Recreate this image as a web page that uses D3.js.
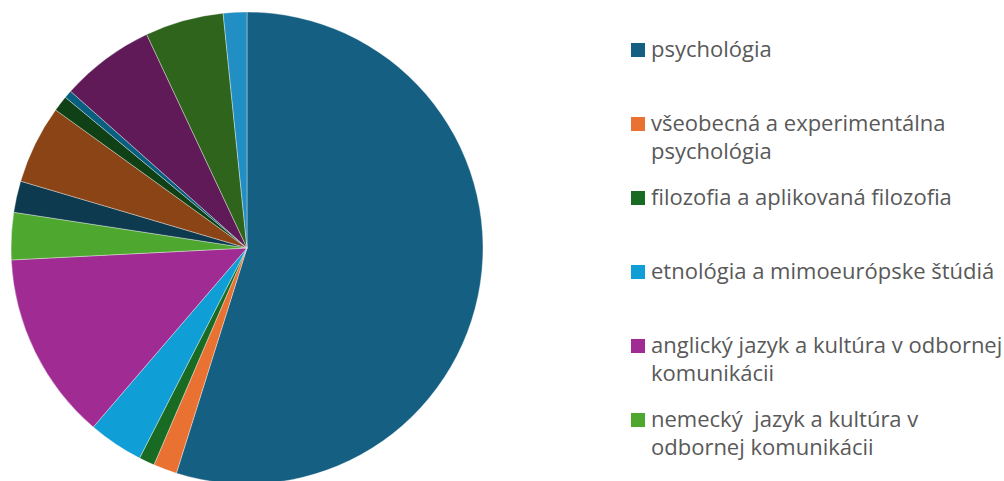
<!DOCTYPE html>
<html>
<head>
  <meta charset="utf-8">
  <title>Pie</title>
  <script src="https://cdn.jsdelivr.net/npm/d3@7"></script>
  <style>
    body { margin: 0; background: #fff; }
    .legend text {
      font-family: "Open Sans", "Noto Sans", sans-serif;
      font-size: 22px;
      fill: #595959;
      white-space: pre;
    }
  </style>
</head>
<body>
  <div id="chart-area"></div>
  <script>
    // counts per study programme, in the order of the slices (clockwise from 12 o'clock)
    const values = [102, 3, 2, 7, 24, 6, 4, 10, 2, 1, 12, 10, 3];
    const colors = ["#156082", "#e97132", "#196b24", "#0f9ed5", "#a02b93", "#4ea72e",
                    "#0d3a4e", "#8b4415", "#0f4016", "#095f80", "#601a58", "#2f641c", "#218ec4"];
    // only these entries fit into the legend area
    const labels = [
      "psychológia",
      "všeobecná a experimentálna psychológia",
      "filozofia a aplikovaná filozofia",
      "etnológia a mimoeurópske štúdiá",
      "anglický jazyk a kultúra v odbornej komunikácii",
      "nemecký  jazyk a kultúra v odbornej komunikácii"
    ];

    const width = 1004;
    const height = 481;
    const radius = 236;

    const svg = d3.select("#chart-area")
      .append("svg")
        .attr("width", width)
        .attr("height", height);

    const g = svg.append("g")
      .attr("transform", "translate(247, 248)");

    const pie = d3.pie()
      .value(d => d)
      .sort(null);

    const arc = d3.arc()
      .innerRadius(0)
      .outerRadius(radius);

    g.selectAll("path")
      .data(pie(values))
      .enter().append("path")
        .attr("d", arc)
        .attr("fill", (d, i) => colors[i])
        .attr("stroke", "#fff")
        .attr("stroke-width", 0.6)
        .attr("stroke-opacity", 0.6);

    // legend
    const legend = svg.append("g").attr("class", "legend");
    const item = legend.selectAll("g")
      .data(labels)
      .enter().append("g")
        .attr("transform", (d, i) => `translate(631, ${50 + i * 74})`);

    item.append("rect")
      .attr("x", 0)
      .attr("y", -7)
      .attr("width", 14)
      .attr("height", 14)
      .attr("fill", (d, i) => colors[i]);

    item.append("text")
      .attr("x", 20)
      .attr("y", 7)
      .each(function(d) {
        const text = d3.select(this);
        const words = d.split(" ");
        const maxW = 352;
        let line = "";
        let tspan = text.append("tspan").attr("x", 20).attr("dy", 0);
        words.forEach((w, k) => {
          const test = k === 0 ? w : line + " " + w;
          tspan.text(test);
          if (w !== "" && tspan.node().getComputedTextLength() > maxW && k > 0) {
            tspan.text(line);
            line = w;
            tspan = text.append("tspan").attr("x", 20).attr("dy", 28).text(w);
          } else {
            line = test;
          }
        });
      });
  </script>
</body>
</html>
